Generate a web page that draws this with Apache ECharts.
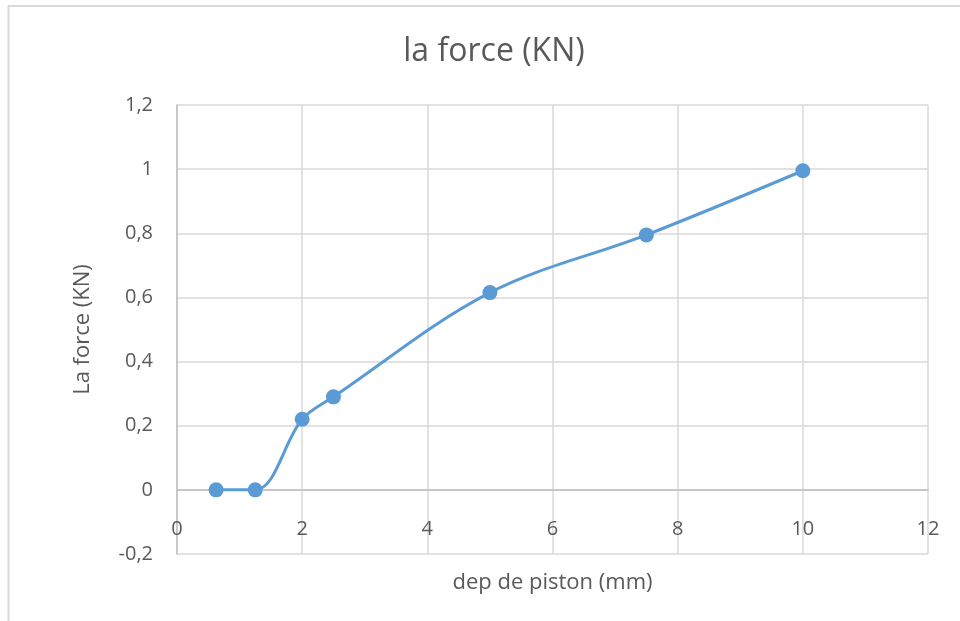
<!DOCTYPE html>
<html>
<head>
<meta charset="utf-8">
<script src="https://cdn.jsdelivr.net/npm/echarts@6/dist/echarts.min.js"></script>
<style>
html,body{margin:0;padding:0;background:#fff;}
#c{width:960px;height:621px;}
</style>
</head>
<body>
<div id="c"></div>
<script>
var titleText = "la force (KN)";
var xAxisTitle = "dep de piston (mm)";
var yAxisTitle = "La force (KN)";
var depPiston = [0.625, 1.25, 2, 2.5, 5, 7.5, 10];
var force = [0, 0, 0.22, 0.29, 0.615, 0.795, 0.995];
var xTicks = [0, 2, 4, 6, 8, 10, 12];
var yTicks = [-0.2, 0, 0.2, 0.4, 0.6, 0.8, 1, 1.2];

var points = depPiston.map(function (x, i) { return [x, force[i]]; });
var font = "'Open Sans', sans-serif";
var chart = echarts.init(document.getElementById('c'), null, {renderer: 'canvas'});
chart.setOption({
  animation: false,
  backgroundColor: '#ffffff',
  title: {
    text: titleText,
    left: 489, top: 31, textAlign: 'center',
    textStyle: {fontFamily: font, fontSize: 32, fontWeight: 'normal', color: '#595959'}
  },
  grid: {left: 177, right: 32, top: 105, bottom: 67, containLabel: false, outerBoundsMode: 'none'},
  xAxis: {
    type: 'value',
    min: xTicks[0], max: xTicks[xTicks.length - 1], interval: 2,
    axisLine: {onZero: true, lineStyle: {color: '#bfbfbf', width: 1.5}},
    axisTick: {show: false},
    axisLabel: {margin: -35, fontFamily: font, fontSize: 20, color: '#595959'},
    splitLine: {show: true, lineStyle: {color: '#d9d9d9', width: 1.5}},
    name: xAxisTitle, nameLocation: 'middle', nameGap: 18,
    nameTextStyle: {fontFamily: font, fontSize: 22, color: '#595959'}
  },
  yAxis: {
    type: 'value',
    min: yTicks[0], max: yTicks[yTicks.length - 1], interval: 0.2,
    axisLine: {show: true, lineStyle: {color: '#bfbfbf', width: 1.5}},
    axisTick: {show: false},
    axisLabel: {
      margin: 24, fontFamily: font, fontSize: 20, color: '#595959',
      formatter: function (v) { var r = Math.round(v * 10) / 10; return String(r).replace('.', ','); }
    },
    splitLine: {show: true, lineStyle: {color: '#d9d9d9', width: 1.5}},
    name: yAxisTitle, nameLocation: 'middle', nameGap: 83, nameRotate: 90,
    nameTextStyle: {fontFamily: font, fontSize: 22, color: '#595959'}
  },
  series: [{
    type: 'line',
    data: points,
    smooth: 0.35,
    symbol: 'circle',
    symbolSize: 15,
    lineStyle: {color: '#5b9bd5', width: 3},
    itemStyle: {color: '#5b9bd5'}
  }],
  graphic: [
    {type: 'line', shape: {x1: 8.5, y1: 5, x2: 8.5, y2: 621}, style: {stroke: '#d9d9d9', lineWidth: 2}},
    {type: 'line', shape: {x1: 8, y1: 6, x2: 960, y2: 6}, style: {stroke: '#d9d9d9', lineWidth: 2}}
  ]
});
</script>
</body>
</html>
